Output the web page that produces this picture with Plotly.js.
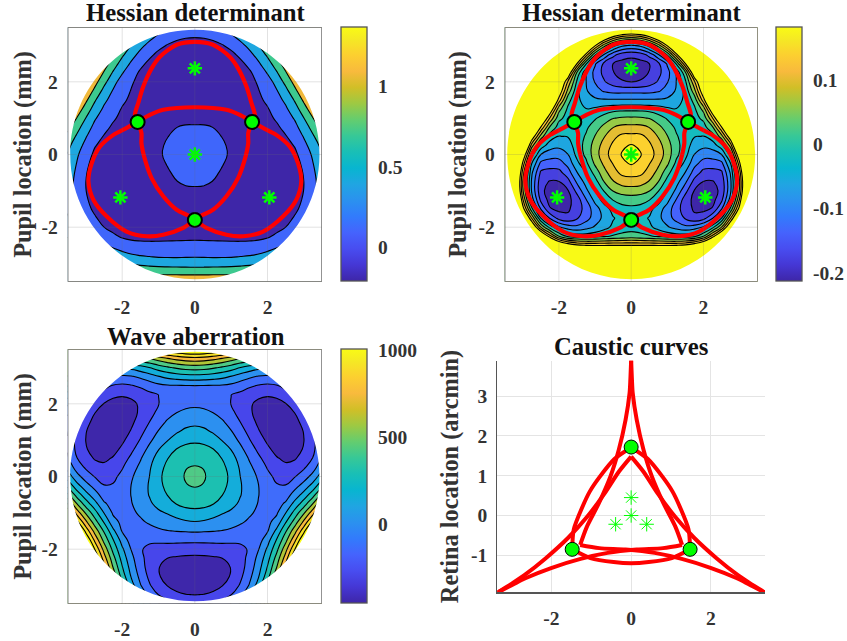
<!DOCTYPE html>
<html><head><meta charset="utf-8">
<script src="https://cdn.plot.ly/plotly-3.0.1.min.js"></script>
<style>html,body{margin:0;padding:0;background:#fff}#g{width:847px;height:641px}</style>
</head><body><div id="g"></div>
<script>
// pupil grid (mm); the picture is mirror-symmetric, so rows below hold x = 0, .25, ... 3.5
const gridX=[-3.5,-3.25,-3,-2.75,-2.5,-2.25,-2,-1.75,-1.5,-1.25,-1,-.75,-.5,-.25,0,.25,.5,.75,1,1.25,1.5,1.75,2,2.25,2.5,2.75,3,3.25,3.5];
const gridY=[3.5,3.25,3,2.75,2.5,2.25,2,1.75,1.5,1.25,1,.75,.5,.25,0,-.25,-.5,-.75,-1,-1.25,-1.5,-1.75,-2,-2.25,-2.5,-2.75,-3,-3.25,-3.5];
// Hessian determinant, values estimated from the contours of the picture
const hessianHalf=[
[.33,.347,.398,.483,.604,.767,.998,1.317,1.644,1.963,2.298,2.652,3.028,3.4,3.9],
[.125,.14,.184,.259,.377,.536,.729,.962,1.274,1.671,2.038,2.411,2.803,3.2,3.6],
[-.065,-.051,-.003,.078,.186,.331,.519,.754,1.02,1.332,1.74,2.145,2.548,2.95,3.35],
[-.167,-.158,-.126,-.064,.027,.165,.337,.552,.821,1.123,1.456,1.863,2.281,2.7,3.1],
[-.2,-.195,-.18,-.149,-.094,.026,.178,.384,.624,.926,1.255,1.611,2.019,2.45,2.85],
[-.202,-.196,-.178,-.151,-.115,-.055,.052,.235,.454,.725,1.057,1.406,1.78,2.2,2.6],
[-.181,-.176,-.16,-.136,-.103,-.059,.013,.134,.28,.548,.852,1.204,1.566,1.95,2.35],
[-.114,-.114,-.113,-.105,-.084,-.055,-.009,.086,.226,.402,.662,1,1.355,1.72,2.1],
[-.055,-.055,-.055,-.055,-.052,-.035,-.012,.034,.162,.31,.498,.792,1.151,1.5,1.85],
[.008,.008,.004,-.002,-.013,-.019,-.007,.012,.076,.232,.377,.616,.946,1.3,1.65],
[.067,.066,.058,.035,.016,.001,-.001,.006,.03,.137,.275,.461,.753,1.08,1.42],
[.112,.112,.099,.073,.039,.013,.001,-.003,.003,.054,.177,.335,.591,.88,1.2],
[.151,.15,.13,.097,.062,.024,.001,-.018,-.021,.002,.083,.221,.454,.72,1],
[.183,.174,.148,.116,.078,.033,0,-.038,-.05,-.041,.004,.118,.336,.58,.85],
[.2,.183,.158,.124,.082,.03,-.008,-.061,-.083,-.081,-.06,.035,.24,.48,.75],
[.183,.173,.142,.108,.067,.01,-.031,-.087,-.118,-.12,-.111,-.021,.168,.42,.68],
[.156,.151,.124,.086,.036,-.019,-.062,-.118,-.153,-.156,-.147,-.054,.121,.37,.62],
[.121,.117,.097,.06,.003,-.045,-.093,-.154,-.181,-.183,-.165,-.068,.1,.34,.58],
[.081,.078,.062,.022,-.022,-.07,-.128,-.183,-.199,-.197,-.169,-.066,.106,.35,.58],
[.039,.034,.021,-.003,-.048,-.103,-.161,-.191,-.204,-.194,-.149,-.041,.146,.4,.62],
[.009,.007,-.006,-.04,-.079,-.124,-.161,-.186,-.19,-.176,-.102,.03,.204,.45,.72],
[0,-.006,-.023,-.049,-.082,-.115,-.145,-.17,-.155,-.105,-.02,.135,.304,.53,.8],
[.005,.002,-.012,-.033,-.055,-.075,-.09,-.08,-.055,.005,.1,.254,.441,.65,.9],
[.036,.03,.024,.014,.006,0,.002,.012,.06,.157,.272,.426,.625,.83,1.05],
[.18,.18,.18,.178,.178,.18,.19,.22,.27,.356,.48,.638,.913,1.15,1.4],
[.349,.344,.333,.329,.331,.362,.392,.439,.511,.605,.727,.967,1.213,1.45,1.7],
[.605,.607,.613,.622,.634,.657,.691,.74,.8,.897,1.117,1.324,1.479,1.75,2],
[.989,.99,.992,.995,1.001,1.014,1.034,1.069,1.168,1.359,1.508,1.631,1.753,1.95,2.2],
[1.4,1.399,1.396,1.392,1.389,1.394,1.435,1.544,1.661,1.759,1.848,1.937,2.055,2.3,2.6]];
// Wave aberration (nm), values estimated from the contours of the picture
const waveHalf=[
[1270,1257,1220,1173,1129,1096,1067,1052,1070,1126,1222,1360,1540,1757,2002],
[857,843,805,749,677,601,568,588,622,683,790,944,1144,1387,1665],
[522,510,476,429,375,304,241,199,230,315,422,579,788,1045,1343],
[245,240,223,190,142,83,30,-13,-29,14,125,272,478,737,1044],
[0,-5,-10,-13,-35,-78,-127,-160,-177,-162,-91,36,218,468,773],
[-48,-55,-74,-107,-149,-186,-229,-271,-284,-269,-222,-121,19,245,538],
[-24,-32,-58,-99,-154,-221,-280,-332,-362,-349,-305,-225,-103,66,343],
[35,27,1,-48,-118,-194,-276,-349,-400,-408,-367,-299,-186,-46,188],
[115,102,69,19,-55,-150,-243,-327,-399,-436,-412,-345,-255,-117,76],
[195,176,131,76,5,-91,-197,-290,-368,-428,-431,-375,-293,-168,15],
[276,263,214,144,68,-29,-139,-243,-324,-393,-419,-382,-303,-196,-13],
[350,342,305,233,144,38,-76,-182,-274,-344,-381,-361,-287,-188,-14],
[419,409,364,296,207,97,-14,-119,-217,-289,-327,-313,-243,-144,23],
[457,447,405,336,248,132,33,-60,-161,-233,-268,-243,-171,-63,105],
[474,457,422,355,268,150,65,-18,-114,-182,-208,-158,-71,53,235],
[457,446,404,340,262,162,82,3,-82,-139,-145,-57,56,204,413],
[420,409,366,305,238,158,80,4,-65,-101,-74,61,205,388,638],
[347,339,307,251,191,128,56,-7,-58,-63,24,200,377,603,909],
[259,247,208,161,126,77,20,-27,-51,-21,147,358,580,843,1219],
[145,132,104,80,57,19,-22,-52,-36,54,286,513,783,1096,1553],
[16,11,4,-5,-24,-52,-73,-65,-13,188,433,690,1004,1385,1891],
[-115,-114,-111,-113,-121,-123,-114,-67,88,310,552,862,1220,1699,2232],
[-236,-233,-227,-215,-204,-186,-135,-8,177,405,697,1040,1471,2007,2591],
[-331,-328,-318,-301,-270,-210,-107,43,242,505,823,1221,1751,2312,2973],
[-412,-406,-387,-352,-294,-209,-85,86,311,596,963,1473,2018,2645,3364],
[-438,-429,-402,-356,-286,-183,-45,138,384,723,1201,1718,2309,2994,3753],
[-389,-381,-353,-305,-236,-134,12,218,538,966,1437,1986,2626,3346,4125],
[-304,-296,-273,-228,-154,-40,147,432,786,1202,1701,2285,2950,3684,4467],
[-170,-162,-137,-84,13,171,392,680,1040,1477,1995,2593,3265,3997,4766]];
const mirror=rows=>rows.map(r=>r.slice(1).reverse().concat(r));
const hessian=mirror(hessianHalf), wave=mirror(waveHalf);
// band colours, lowest band first
const bandsA=['#3e26a8','#3f66fb','#1ea7e0','#3dc98f','#f0b93b'];
const bandsB=['#3e26a8','#4640e0','#4562fc','#2f86f5','#1ea6e0','#15bcbe','#46ca88','#97ca47','#e4bd32','#fcd12e','#f9fa16'];
const bandsC=['#3e27aa','#4746eb','#3f6cfb','#2c90f0','#14adda','#1cc0b1','#4fca86','#b0c537','#f8ba3d','#f6e025','#f9fb15'];
// zero-determinant (red) curve on the pupil
const redX=[0,.5,.96,1.19,1.42,1.56,1.65,1.575,1.47,1.47,1.37,1.19,.87,.5,.14,0,-.32,-.87,-1.33,-1.88,-2.43,-2.79,-2.93,-2.84,-2.61,-2.24,-1.9,-1.575,-1.24,-.87,0,.87,1.24,1.575,1.9,2.24,2.61,2.84,2.93,2.79,2.43,1.88,1.33,.87,.32,0,-.14,-.5,-.87,-1.19,-1.37,-1.47,-1.47,-1.575,-1.65,-1.56,-1.42,-1.19,-.96,-.5,0];
const redY=[3.1,3.02,2.69,2.37,1.87,1.41,1.09,.897,.59,.31,-.15,-.65,-1.15,-1.52,-1.7,-1.8,-2.02,-2.21,-2.25,-2.12,-1.7,-1.25,-.74,-.24,.22,.54,.72,.897,1.09,1.23,1.3,1.23,1.09,.897,.72,.54,.22,-.24,-.74,-1.25,-1.7,-2.12,-2.25,-2.21,-2.02,-1.8,-1.7,-1.52,-1.15,-.65,-.15,.31,.59,.897,1.09,1.41,1.87,2.37,2.69,3.02,3.1];
const dotX=[-1.575,1.575,0], dotY=[.897,.897,-1.8];
const starX=[0,0,-2.05,2.05], starY=[2.37,0,-1.18,-1.18];
// caustic curves on the retina (arcmin)
const causticX=[0,-.02,-.04,-.14,-.31,-.52,-.81,-1.11,-1.28,null,-1.28,-.8,-.14,.59,1.27,2.01,2.64,2.94,3.39,null,3.39,2.96,2.68,2.15,1.58,1.11,.67,.31,0,null,0,-.31,-.67,-1.11,-1.58,-2.15,-2.68,-2.96,-3.39,null,-3.39,-2.94,-2.64,-2.01,-1.27,-.59,.14,.8,1.28,null,1.28,1.11,.81,.52,.31,.14,.04,.02,0,null,-1.48,-1.02,-.44,0,.44,1.02,1.48,null,1.48,1.44,1.23,1.04,.79,.42,0,null,-1.48,-1.44,-1.23,-1.04,-.79,-.42,0];
const causticY=[3.91,3.41,3.07,2.4,1.65,.98,.31,-.28,-.74,null,-.74,-.82,-.856,-.94,-1.09,-1.32,-1.57,-1.72,-1.955,null,-1.955,-1.69,-1.5,-1.08,-.56,-.04,.55,1.1,1.48,null,1.48,1.1,.55,-.04,-.56,-1.08,-1.5,-1.69,-1.955,null,-1.955,-1.72,-1.57,-1.32,-1.09,-.94,-.856,-.82,-.74,null,-.74,-.28,.31,.98,1.65,2.4,3.07,3.41,3.91,null,-.85,-1.07,-1.17,-1.2,-1.17,-1.07,-.85,null,-.85,-.35,.2,.6,.97,1.42,1.71,null,-.85,-.35,.2,.6,.97,1.42,1.71];
const cuspDotX=[0,-1.48,1.48], cuspDotY=[1.72,-.85,-.85];
const cuspStarX=[0,0,-.39,.39], cuspStarY=[.45,0,-.22,-.22];

const parula=[[0,'#3e26a8'],[.0635,'#4537d5'],[.127,'#484df0'],[.19,'#4563fd'],[.254,'#327bfc'],[.317,'#2b91ef'],[.381,'#20a5e2'],[.444,'#08b5d0'],[.508,'#19bfb6'],[.571,'#37c897'],[.635,'#64cd6f'],[.698,'#9dc943'],[.762,'#d1bf27'],[.825,'#f8ba3d'],[.889,'#fccf30'],[.952,'#f5e924'],[1,'#f9fb15']];
const W=847,H=641, serif='"Liberation Serif","Times New Roman",serif';
const dx=(a,b)=>[a/W,b/W], dy=(top,bot)=>[1-bot/H,1-top/H];
const tickFont={family:serif,size:19.5,color:'#333',weight:700};
const axisFont={family:serif,size:24.3,color:'#333',weight:700};
const titleFont={family:serif,size:24.7,color:'#111'};

function contour(z,xa,ya,bands,start,end,size){
  const scale=bands.map((c,i)=>[i/(bands.length-1),c]);
  return {type:'contour',x:gridX,y:gridY,z:z,xaxis:xa,yaxis:ya,colorscale:scale,showscale:false,hoverinfo:'skip',
    zauto:false,zmin:start-size/2,zmax:end+size/2,
    contours:{coloring:'fill',start:start,end:end,size:size,showlines:true},
    line:{color:'#000',width:1.1,smoothing:1.3}};
}
function bar(xa,ya,clim,left,top,len,vals,text){
  return {type:'scatter',mode:'markers',x:[0,0],y:[0,0],xaxis:xa,yaxis:ya,hoverinfo:'skip',
    marker:{opacity:0,size:1,color:clim,colorscale:parula,cmin:clim[0],cmax:clim[1],showscale:true,
      colorbar:{x:left/W,xanchor:'left',xpad:0,y:1-top/H,yanchor:'top',ypad:0,len:len,lenmode:'pixels',
        thickness:26.3,thicknessmode:'pixels',outlinecolor:'#555',outlinewidth:1.3,borderwidth:0,
        tickmode:'array',tickvals:vals,ticktext:text,ticks:'outside',ticklen:7,tickcolor:'rgba(0,0,0,0)',tickfont:tickFont}}};
}
function red(xa,ya){return {type:'scatter',mode:'lines',x:redX,y:redY,xaxis:xa,yaxis:ya,hoverinfo:'skip',
  line:{color:'#ff0000',width:4.2,shape:'spline',smoothing:.8}};}
function dots(xa,ya,x,y,size,lw){return {type:'scatter',mode:'markers',x:x,y:y,xaxis:xa,yaxis:ya,hoverinfo:'skip',
  marker:{size:size,color:'#00ff00',line:{color:'#000',width:lw}}};}
function stars(xa,ya,x,y,size,lw){return {type:'scatter',mode:'markers',x:x,y:y,xaxis:xa,yaxis:ya,hoverinfo:'skip',
  marker:{symbol:'asterisk-open',size:size,color:'#00ff00',line:{color:'#00ff00',width:lw}}};}

const data=[
  contour(hessian,'x','y',bandsA,.1,1.09,.33),
  contour(hessian,'x2','y2',bandsB,-.18,.18,.04),
  contour(wave,'x3','y3',bandsC,-300,1050,150),
  red('x','y'),dots('x','y',dotX,dotY,14,2),stars('x','y',starX,starY,12,2.5),
  red('x2','y2'),dots('x2','y2',dotX,dotY,14,2),stars('x2','y2',starX,starY,12,2.5),
  {type:'scatter',mode:'lines',x:causticX,y:causticY,xaxis:'x4',yaxis:'y4',hoverinfo:'skip',connectgaps:false,
    line:{color:'#ff0000',width:4,shape:'spline',smoothing:.8}},
  dots('x4','y4',cuspDotX,cuspDotY,14,1),stars('x4','y4',cuspStarX,cuspStarY,12,1),
  bar('x','y',[-.214,1.37],341,27.3,254.4,[0,.5,1],['0','0.5','1']),
  bar('x2','y2',[-.213,.182],776.3,27.3,254.4,[-.2,-.1,0,.1],['-0.2','-0.1','0','0.1']),
  bar('x3','y3',[-456,1003],341,349.3,254.4,[0,500,1000],['0','500','1000'])
];

function pupilAxis(domain,anchor,title,isY,standoff){
  const a={domain:domain,anchor:anchor,range:[-3.5,3.5],showgrid:false,zeroline:false,showline:false,
    tickmode:'array',tickvals:[-2,0,2],ticktext:['-2','0','2'],tickfont:tickFont,
    ticks:'outside',ticklen:isY?5:8,tickcolor:'rgba(0,0,0,0)',fixedrange:true};
  if(title) a.title={text:title,font:axisFont,standoff:standoff};
  return a;
}
const layout={width:W,height:H,margin:{l:0,r:0,t:0,b:0},paper_bgcolor:'#fff',plot_bgcolor:'#fff',showlegend:false,
  xaxis:pupilAxis(dx(67.7,322),'y'),yaxis:pupilAxis(dy(27.3,281.7),'x','Pupil location (mm)',true,3),
  xaxis2:pupilAxis(dx(504.7,757.7),'y2'),yaxis2:pupilAxis(dy(27.3,281.7),'x2','Pupil location (mm)',true,5),
  xaxis3:pupilAxis(dx(67.7,322),'y3'),yaxis3:pupilAxis(dy(349.3,603.7),'x3','Pupil location (mm)',true,3),
  xaxis4:{domain:dx(497.3,765),anchor:'y4',range:[-3.36,3.36],showgrid:true,gridcolor:'#e4e4e4',gridwidth:1,zeroline:false,
    showline:true,linecolor:'#555',linewidth:1.2,tickmode:'array',tickvals:[-2,0,2],ticktext:['-2','0','2'],tickfont:tickFont,
    ticks:'outside',ticklen:8,tickcolor:'rgba(0,0,0,0)',fixedrange:true},
  yaxis4:{domain:dy(360.7,592.3),anchor:'x4',range:[-1.93,3.89],showgrid:true,gridcolor:'#e4e4e4',gridwidth:1,zeroline:false,
    showline:true,linecolor:'#555',linewidth:1.2,tickmode:'array',tickvals:[-1,0,1,2,3],ticktext:['-1','0','1','2','3'],tickfont:tickFont,
    ticks:'outside',ticklen:5,tickcolor:'rgba(0,0,0,0)',fixedrange:true,
    title:{text:'Retina location (arcmin)',font:axisFont,standoff:5}},
  annotations:[
    {text:'<b>Hessian determinant</b>',x:195.5/W,y:1-13/H},
    {text:'<b>Hessian determinant</b>',x:632/W,y:1-13/H},
    {text:'<b>Wave aberration</b>',x:195.5/W,y:1-336/H},
    {text:'<b>Caustic curves</b>',x:631/W,y:1-346/H}
  ].map(a=>Object.assign(a,{xref:'paper',yref:'paper',xanchor:'center',yanchor:'middle',showarrow:false,font:titleFont})),
  shapes:[]
};
// white surround of the round pupil, faint grid above the fills, then the frame
const maskPath='M -3.6 -3.6 L 3.6 -3.6 L 3.6 3.6 L -3.6 3.6 Z M 3.43 0 C 3.43 1.894 1.894 3.43 0 3.43 C -1.894 3.43 -3.43 1.894 -3.43 0 C -3.43 -1.894 -1.894 -3.43 0 -3.43 C 1.894 -3.43 3.43 -1.894 3.43 0 Z';
['','2','3'].forEach(n=>{
  const xr='x'+n, yr='y'+n;
  layout.shapes.push({type:'path',xref:xr,yref:yr,path:maskPath,fillcolor:'#fff',fillrule:'evenodd',line:{width:0},layer:'above'});
  [-2,0,2].forEach(v=>{
    layout.shapes.push({type:'line',xref:xr,yref:yr,x0:v,x1:v,y0:-3.5,y1:3.5,line:{color:'rgba(110,110,110,.2)',width:1},layer:'above'});
    layout.shapes.push({type:'line',xref:xr,yref:yr,x0:-3.5,x1:3.5,y0:v,y1:v,line:{color:'rgba(110,110,110,.2)',width:1},layer:'above'});
  });
  layout.shapes.push({type:'rect',xref:xr,yref:yr,x0:-3.5,x1:3.5,y0:-3.5,y1:3.5,line:{color:'#666',width:1.4},layer:'above'});
});
Plotly.newPlot('g',data,layout,{displayModeBar:false,staticPlot:true});
</script></body></html>
